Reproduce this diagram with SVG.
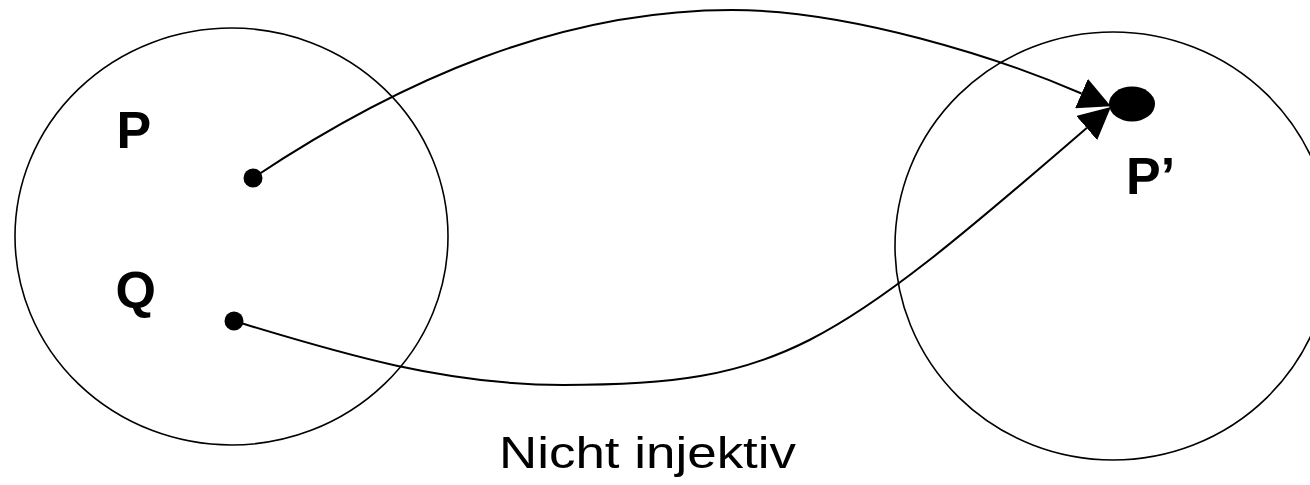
<svg xmlns="http://www.w3.org/2000/svg" width="1310" height="485" viewBox="0 0 1310 485">
<style>
.set{fill:none;stroke:#000;stroke-width:1.6}
.edge{fill:none;stroke:#000;stroke-width:2}
.dot{fill:#000}
.lbl{font-family:"Liberation Sans",Arial,sans-serif;font-weight:bold;font-size:52px;fill:#000}
.cap{font-family:"Liberation Sans",Arial,sans-serif;font-size:45px;fill:#000}
</style>
<defs>
<marker id="arr" markerUnits="userSpaceOnUse" markerWidth="32" markerHeight="32" refX="0" refY="14.5" orient="auto" viewBox="0 0 29 29">
<path d="M0,0 L29,14.5 L0,29 Z" fill="#000"/>
</marker>
</defs>
<rect width="1310" height="485" fill="#fff"/>
<g id="setA">
<ellipse class="set" cx="231.5" cy="236.5" rx="216.5" ry="208.5"/>
</g>
<g id="setB">
<ellipse class="set" cx="1113" cy="246" rx="218" ry="214"/>
</g>
<g id="connectors">
<path class="edge" d="M253,178 C400,80 560,10 732,10 C850,10 1000,58 1081.5,93.5" marker-end="url(#arr)"/>
<path class="edge" d="M234,321 C330,350 440,385 563,385 C780,385 830,350 1086.7,128" marker-end="url(#arr)"/>
</g>
<g id="P">
<circle class="dot" cx="253" cy="178" r="9.5"/>
<text class="lbl" x="116.5" y="148">P</text>
</g>
<g id="Q">
<circle class="dot" cx="234" cy="321" r="9.5"/>
<text class="lbl" x="115.5" y="308">Q</text>
</g>
<g id="Pprime">
<ellipse class="dot" cx="1132" cy="104" rx="23" ry="17.5"/>
<text class="lbl" x="1126" y="194">P’</text>
</g>
<g id="caption">
<text class="cap" x="499" y="467.5" textLength="297" lengthAdjust="spacingAndGlyphs">Nicht injektiv</text>
</g>
</svg>
